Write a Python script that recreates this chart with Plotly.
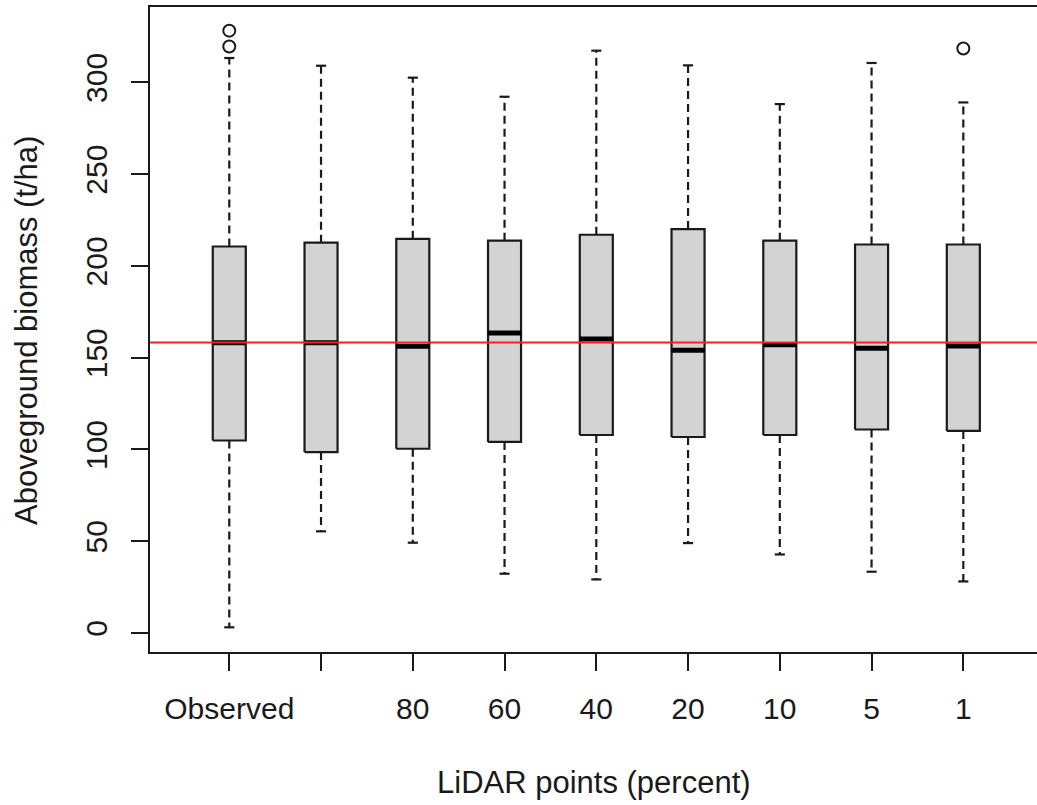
import plotly.graph_objects as go

# ---- data ----
categories = ["Observed", "", "80", "60", "40", "20", "10", "5", "1"]
positions = [1, 2, 3, 4, 5, 6, 7, 8, 9]
q1 = [104.9, 98.6, 100.4, 104.1, 107.9, 106.8, 107.9, 110.9, 110.1]
median = [158.2, 158.2, 156.3, 163.4, 160.2, 154.1, 157.1, 155.2, 156.4]
q3 = [210.6, 212.7, 214.8, 213.8, 217.0, 220.1, 213.8, 211.7, 211.7]
lower_whisker = [3.1, 55.4, 49.2, 32.3, 29.2, 49.0, 42.8, 33.4, 28.1]
upper_whisker = [313.3, 309.1, 302.6, 292.2, 317.3, 309.3, 288.2, 310.6, 289.1]
outlier_pos = [1, 1, 9]
outlier_val = [328.2, 319.6, 318.5]
reference_value = 158.3
y_ticks = [0, 50, 100, 150, 200, 250, 300]

# ---- style ----
HW = 0.18      # half box width (x units)
CAP = 0.055    # half staple width
INK = "#1a1a1a"
FONT = "Liberation Sans, Arial, sans-serif"

fig = go.Figure()

# boxes
for p, a, b in zip(positions, q1, q3):
    fig.add_trace(go.Scatter(
        x=[p - HW, p + HW, p + HW, p - HW, p - HW],
        y=[a, a, b, b, a],
        mode="lines", fill="toself", fillcolor="#d3d3d3",
        line=dict(color=INK, width=2.2), showlegend=False, hoverinfo="skip"))

# dashed whiskers
wx, wy = [], []
for p, a, b, lo, hi in zip(positions, q1, q3, lower_whisker, upper_whisker):
    wx += [p, p, None, p, p, None]
    wy += [b, hi, None, a, lo, None]
fig.add_trace(go.Scatter(x=wx, y=wy, mode="lines",
                         line=dict(color=INK, width=2.2, dash="8px,5px"),
                         showlegend=False, hoverinfo="skip"))

# staples
cx, cy = [], []
for p, lo, hi in zip(positions, lower_whisker, upper_whisker):
    cx += [p - CAP, p + CAP, None, p - CAP, p + CAP, None]
    cy += [hi, hi, None, lo, lo, None]
fig.add_trace(go.Scatter(x=cx, y=cy, mode="lines",
                         line=dict(color=INK, width=2.2),
                         showlegend=False, hoverinfo="skip"))

# medians
mx, my = [], []
for p, m in zip(positions, median):
    mx += [p - HW, p + HW, None]
    my += [m, m, None]
fig.add_trace(go.Scatter(x=mx, y=my, mode="lines",
                         line=dict(color="black", width=5),
                         showlegend=False, hoverinfo="skip"))

# outliers
fig.add_trace(go.Scatter(x=outlier_pos, y=outlier_val, mode="markers",
                         marker=dict(symbol="circle-open", size=12,
                                     color=INK, line=dict(width=2)),
                         showlegend=False, hoverinfo="skip"))

# reference line
fig.add_shape(type="line", xref="paper", x0=0, x1=1, yref="y",
              y0=reference_value, y1=reference_value,
              line=dict(color="#ff2020", width=2), layer="above")

fig.update_layout(
    width=1037, height=805,
    margin=dict(l=150, r=0, t=7, b=153),
    plot_bgcolor="white", paper_bgcolor="white",
    font=dict(family=FONT, color=INK, size=30),
    xaxis=dict(range=[0.136, 9.803], tickmode="array", tickvals=positions,
               ticktext=categories, ticks="outside", ticklen=17, tickwidth=2,
               tickcolor=INK, showline=True, linecolor=INK, linewidth=2,
               mirror=True, showgrid=False, zeroline=False,
               tickfont=dict(size=30, family=FONT, color=INK),
               ticklabelstandoff=12),
    yaxis=dict(range=[-10.35, 341.1], tickmode="array", tickvals=y_ticks,
               ticks="outside", ticklen=17, tickwidth=2, tickcolor=INK,
               tickangle=-90, showline=True, linecolor=INK, linewidth=2,
               mirror=False, showgrid=False, zeroline=False,
               tickfont=dict(size=30, family=FONT, color=INK),
               ticklabelstandoff=12),
    annotations=[
        dict(text="LiDAR points (percent)", xref="paper", yref="paper",
             x=0.5006, y=-0.2016, xanchor="center", yanchor="middle",
             showarrow=False, font=dict(size=31, family=FONT, color=INK)),
        dict(text="Aboveground biomass (t/ha)", xref="paper", yref="paper",
             x=-0.1398, y=0.4992, xanchor="center", yanchor="middle",
             textangle=-90, showarrow=False,
             font=dict(size=31, family=FONT, color=INK)),
    ],
)

fig.write_html("out.html")
